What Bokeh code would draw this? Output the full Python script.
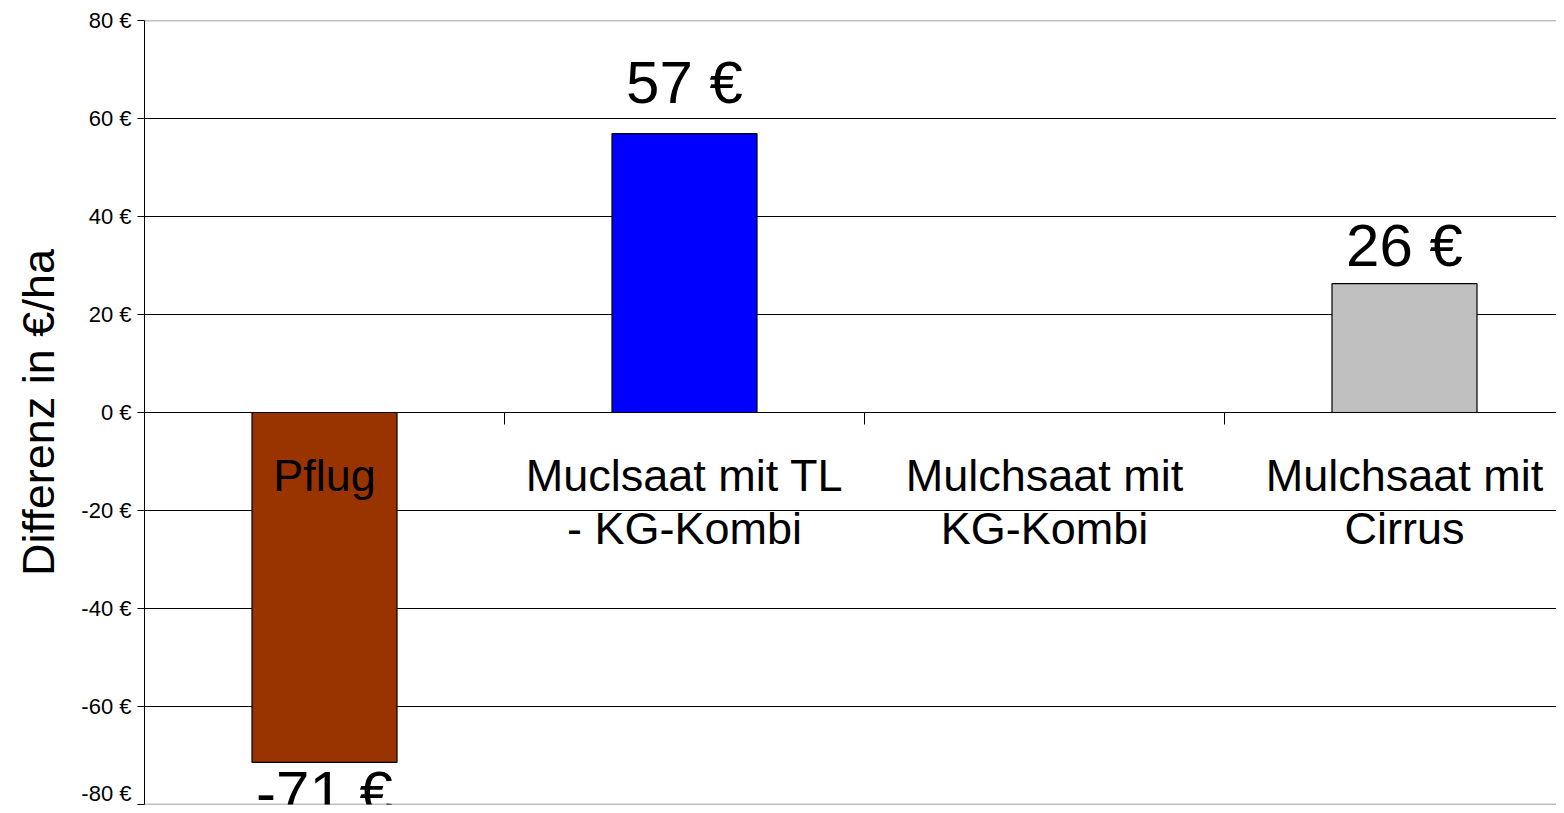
from bokeh.plotting import figure
from bokeh.models import ColumnDataSource, FixedTicker, PrintfTickFormatter, Span, LabelSet, Range1d
from bokeh.core.properties import value
from bokeh.embed import file_html
from bokeh.resources import INLINE

# ---- data ----
categories = ["Pflug", "Muclsaat mit TL - KG-Kombi", "Mulchsaat mit KG-Kombi", "Mulchsaat mit Cirrus"]
label_line1 = ["Pflug", "Muclsaat mit TL", "Mulchsaat mit", "Mulchsaat mit"]
label_line2 = ["", "- KG-Kombi", "KG-Kombi", "Cirrus"]
values = [-71.4, 56.9, None, 26.3]
colors = ["#993300", "#0000FF", "#C0C0C0", "#C0C0C0"]
y_ticks = [-80, -60, -40, -20, 0, 20, 40, 60, 80]

# ---- styling ----
label_gap = [-10.3, 6.3, 0, 3.7]   # value-label baseline offset (in axis units)
FONT = "Liberation Sans"
W, H = 1556, 805
LEFT, TOP, BOTTOM = 144, 20, 1
cat_px = 360.0
frame_w = W - LEFT

p = figure(width=W, height=H, output_backend="svg", toolbar_location=None,
           x_range=Range1d(0, frame_w / cat_px), y_range=Range1d(-80, 80),
           min_border_left=LEFT, min_border_top=TOP, min_border_bottom=BOTTOM,
           min_border_right=0, x_axis_location=None)
p.outline_line_color = None
p.background_fill_color = "white"
p.border_fill_color = "white"

# grid
p.xgrid.visible = False
p.ygrid.ticker = FixedTicker(ticks=[t for t in y_ticks if abs(t) != 80])
p.ygrid.grid_line_color = "black"
p.ygrid.grid_line_width = 1
for edge in (y_ticks[0], y_ticks[-1]):
    p.add_layout(Span(location=edge, dimension="width", line_color="#808080", line_width=1.5))

# y axis
ax = p.yaxis[0]
ax.ticker = FixedTicker(ticks=y_ticks)
ax.formatter = PrintfTickFormatter(format="%d €")
ax.axis_line_color = "black"
ax.major_tick_line_color = "black"
ax.major_tick_out = 7
ax.major_tick_in = 0
ax.minor_tick_line_color = None
ax.major_label_text_font = FONT
ax.major_label_text_font_size = "22px"
ax.major_label_text_color = "black"
ax.major_label_standoff = 6
ax.axis_label = "Differenz in €/ha"
ax.axis_label_text_font = FONT
ax.axis_label_text_font_size = "45px"
ax.axis_label_text_font_style = "normal"
ax.axis_label_text_color = "black"
ax.axis_label_standoff = 14

# bars
xs = [i + 0.5 for i in range(len(categories))]
bar_vals = [v if v is not None else 0 for v in values]
src = ColumnDataSource(dict(x=xs, top=bar_vals, color=colors))
p.vbar(x="x", top="top", bottom=0, width=145 / cat_px, fill_color="color",
       line_color="black", line_width=1.2, source=src)

# category tick marks on the zero line
bounds = list(range(1, len(categories)))
p.segment(x0=bounds, y0=[0] * len(bounds), x1=bounds, y1=[-2.45] * len(bounds),
          line_color="black", line_width=1)

# category labels
p.text(x=xs, y=[-12.8] * len(xs), text=label_line1, text_align="center",
       text_baseline="alphabetic", text_font=value(FONT), text_font_size="45px",
       text_color="black")
p.text(x=xs, y=[-23.7] * len(xs), text=label_line2, text_align="center",
       text_baseline="alphabetic", text_font=value(FONT), text_font_size="45px",
       text_color="black")

# value labels
lx, ly, lt = [], [], []
for x, v, g in zip(xs, values, label_gap):
    if v is None:
        continue
    lx.append(x)
    ly.append(v + g)
    lt.append("%d €" % round(v))
lsrc = ColumnDataSource(dict(x=lx, y=ly, t=lt))
p.add_layout(LabelSet(x="x", y="y", text="t", source=lsrc, text_align="center",
                      text_baseline="alphabetic", text_font=value(FONT),
                      text_font_size="60px", text_color="black"))

open("out.html", "w").write(file_html(p, INLINE))
